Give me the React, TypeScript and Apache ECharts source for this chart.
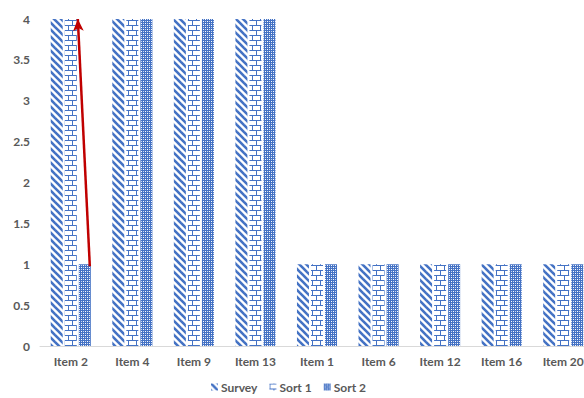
import React, { useEffect, useRef } from "react";
import * as echarts from "echarts";

// Categories and series values
const categories = ["Item 2", "Item 4", "Item 9", "Item 13", "Item 1", "Item 6", "Item 12", "Item 16", "Item 20"];
const surveyValues = [4, 4, 4, 4, 1, 1, 1, 1, 1];
const sort1Values = [4, 4, 4, 4, 1, 1, 1, 1, 1];
const sort2Values = [1, 4, 4, 4, 1, 1, 1, 1, 1];
const seriesNames = ["Survey", "Sort 1", "Sort 2"];

// Arrow annotation: from Sort 2 "Item 2" up to the Sort 1 level of the same item
const arrowCategoryIndex = 0;

const BLUE = "#4472C4";
const FONT = "Lato, 'Open Sans', sans-serif";

function makeTile(w: number, h: number, draw: (ctx: CanvasRenderingContext2D) => void): string {
  const c = document.createElement("canvas");
  c.width = w;
  c.height = h;
  const ctx = c.getContext("2d")!;
  ctx.fillStyle = "#ffffff";
  ctx.fillRect(0, 0, w, h);
  draw(ctx);
  return c.toDataURL();
}

// Wide downward diagonal stripes
function stripeTile(): string {
  return makeTile(7, 7, (ctx) => {
    ctx.strokeStyle = BLUE;
    ctx.lineWidth = 2.6;
    for (let k = -7; k <= 7; k += 7) {
      ctx.beginPath();
      ctx.moveTo(k - 1, -1);
      ctx.lineTo(k + 8, 8);
      ctx.stroke();
    }
  });
}

// Horizontal brick
function brickTile(): string {
  return makeTile(8, 10, (ctx) => {
    ctx.fillStyle = BLUE;
    ctx.fillRect(0, 0, 8, 1);
    ctx.fillRect(0, 5, 8, 1);
    ctx.fillRect(0, 0, 1, 5);
    ctx.fillRect(4, 5, 1, 5);
  });
}

// Dense weave
function weaveTile(): string {
  return makeTile(4, 4, (ctx) => {
    ctx.fillStyle = BLUE;
    ctx.fillRect(0, 0, 4, 4);
    ctx.fillStyle = "#c9d6ef";
    ctx.fillRect(1, 1, 1, 1);
    ctx.fillRect(3, 3, 1, 1);
    ctx.fillStyle = "#ffffff";
    ctx.fillRect(3, 1, 1, 1);
    ctx.fillRect(1, 3, 1, 1);
  });
}

export default function App() {
  const ref = useRef<HTMLDivElement>(null);

  useEffect(() => {
    if (!ref.current) return;
    const chart = echarts.init(ref.current, null, { renderer: "svg" });
    const patterns = [stripeTile(), brickTile(), weaveTile()];
    const values = [surveyValues, sort1Values, sort2Values];

    chart.setOption({
      animation: false,
      grid: { left: 40, width: 554, top: 19, bottom: 52, containLabel: false, outerBoundsMode: "none" },
      legend: {
        bottom: 0,
        left: 206,
        itemWidth: 7,
        itemHeight: 7,
        itemGap: 12,
        icon: "rect",
        textStyle: { color: "#595959", fontSize: 12, fontWeight: "bold", fontFamily: FONT, padding: [0, 0, 0, -2] },
        data: seriesNames,
      },
      xAxis: {
        type: "category",
        data: categories,
        axisLine: { show: true, lineStyle: { color: "#D9D9D9", width: 1 } },
        axisTick: { show: false },
        axisLabel: { color: "#595959", fontSize: 12, fontWeight: "bold", fontFamily: FONT, margin: 9 },
      },
      yAxis: {
        type: "value",
        min: 0,
        max: 4,
        interval: 0.5,
        axisLine: { show: false },
        axisTick: { show: false },
        splitLine: { show: false },
        axisLabel: { color: "#595959", fontSize: 12, fontWeight: "bold", fontFamily: FONT, margin: 10 },
      },
      series: seriesNames.map((name, i) => ({
        name,
        type: "bar",
        data: values[i],
        barWidth: 12,
        barGap: "17%",
        itemStyle: { color: { image: patterns[i], repeat: "repeat" } },
      })),
    });

    // Arrow from the top of the short Sort 2 bar up to the Sort 1 level
    const model = (chart as any).getModel();
    const layout = model.getSeriesByIndex(2).getData().getItemLayout(arrowCategoryIndex);
    const fromY = chart.convertToPixel({ yAxisIndex: 0 }, sort2Values[arrowCategoryIndex]) as number;
    const toY = chart.convertToPixel({ yAxisIndex: 0 }, sort1Values[arrowCategoryIndex]) as number;
    const x0 = layout.x;
    const x1 = layout.x + layout.width;
    chart.setOption({
      series: [
        {},
        {},
        {
          markLine: {
            silent: true,
            symbol: ["none", "arrow"],
            symbolSize: [8, 12],
            label: { show: false },
            lineStyle: { color: "#C00000", width: 2.5, type: "solid" },
            data: [[{ x: x1 - 1, y: fromY + 2 }, { x: x0 - 1, y: toY }]],
          },
        },
      ],
    });

    return () => chart.dispose();
  }, []);

  return (
    <div
      ref={ref}
      style={{ position: "fixed", left: 0, top: 0, width: 584, height: 398, background: "#ffffff" }}
    />
  );
}
